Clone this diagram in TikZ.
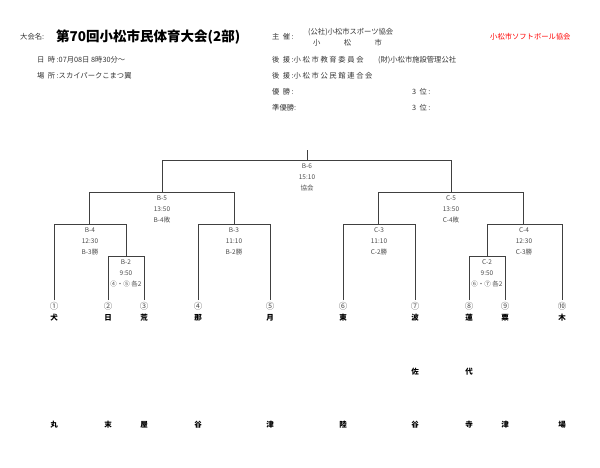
\documentclass[tikz,border=0pt]{standalone}
\usepackage{fontspec}
\setmainfont{Noto Sans CJK JP}
\begin{document}
\begin{tikzpicture}[x=1pt,y=-1pt,
  ln/.style={draw=black!75,line width=0.8pt},
  lab/.style={font=\fontsize{6.5}{7}\selectfont,text=black!70,inner sep=0},
  cn/.style={font=\fontsize{8.5}{9}\selectfont,text=black!70,inner sep=0},
  hd/.style={font=\fontsize{7.3}{8}\selectfont,text=black!80,anchor=west,inner sep=0},
  nm/.style={font=\fontsize{7.5}{8}\selectfont\bfseries,inner sep=0}]
\useasboundingbox (0,0) rectangle (600,467);
% header
\node[hd] (h1) at (20,37) {大会名:};
\node[anchor=west,inner sep=0,font=\fontsize{13.5}{14}\selectfont\bfseries] (ttl) at (56,37) {第70回小松市民体育大会(2部)};
\node[hd] (h2) at (272,37) {主\ \ 催\ :};
\node[hd] (h3) at (308,32) {(公社)小松市スポーツ協会};
\node[hd] (h4) at (313,43) {小\hspace{3.2em}松\hspace{3.2em}市};
\node[hd,text=red] (h5) at (490,37) {小松市ソフトボール協会};
\node[hd] (h6) at (37,60) {日\ \ 時\ :07月08日 8時30分〜};
\node[hd] (h7) at (37,76) {場\ \ 所\ :スカイパークこまつ翼};
\node[hd] (h8) at (272,60) {後\ \ 援\ :小\ 松\ 市\ 教\ 育\ 委\ 員\ 会\hspace{2em}(財)小松市施設管理公社};
\node[hd] (h9) at (272,76) {後\ \ 援\ :小\ 松\ 市\ 公\ 民\ 館\ 連\ 合\ 会};
\node[hd] (h10) at (272,92) {優\ \ 勝\ :};
\node[hd] (h11) at (272,108) {準優勝:};
\node[hd] (h12) at (412,92) {3\ \ 位\ :};
\node[hd] (h13) at (412,108) {3\ \ 位\ :};
% bracket lines
\coordinate (top) at (307,150);
\draw[ln] (top) -- (307,160);
\draw[ln] (162,192) -- (162,160) -- (451,160) -- (451,192);
% B side
\draw[ln] (89,224) -- (89,192) -- (234,192) -- (234,224);
\draw[ln] (54,300) -- (54,224) -- (126,224) -- (126,256);
\draw[ln] (108,300) -- (108,256) -- (144,256) -- (144,300);
\draw[ln] (198,300) -- (198,224) -- (270,224) -- (270,300);
% C side
\draw[ln] (378,224) -- (378,192) -- (523,192) -- (523,224);
\draw[ln] (343,300) -- (343,224) -- (415,224) -- (415,300);
\draw[ln] (487,256) -- (487,224) -- (562,224) -- (562,300);
\draw[ln] (469,300) -- (469,256) -- (505,256) -- (505,300);
% match labels
\foreach \n/\x/\y/\a/\b/\c in {b6/307/166/B-6/15:10/協会, b5/162/198/B-5/13:50/B-4敗, b4/90/230/B-4/12:30/B-3勝, b2/126/262/B-2/9:50/④・⑤ 各2, b3/234/230/B-3/11:10/B-2勝, c5/451/198/C-5/13:50/C-4敗, c3/379/230/C-3/11:10/C-2勝, c4/524/230/C-4/12:30/C-3勝, c2/487/262/C-2/9:50/⑥・⑦ 各2}{
  \node[lab] (\n a) at (\x,\y) {\a};
  \node[lab] (\n b) at (\x,\y+11) {\b};
  \node[lab] (\n c) at (\x,\y+22) {\c};
}
% teams
\foreach \n/\x/\num/\t/\u in {t1/54/①/犬/丸, t2/108/②/日/末, t3/144/③/荒/屋, t4/198/④/那/谷, t5/270/⑤/月/津, t6/343/⑥/東/陸, t7/415/⑦/波/谷, t8/469/⑧/蓮/寺, t9/505/⑨/粟/津, t10/562/⑩/木/場}{
  \node[cn] (\n n) at (\x,306) {\num};
  \node[nm] (\n a) at (\x,318) {\t};
  \node[nm] (\n c) at (\x,425) {\u};
}
\node[nm] (t7b) at (415,372) {佐};
\node[nm] (t8b) at (469,372) {代};
\end{tikzpicture}
\end{document}
